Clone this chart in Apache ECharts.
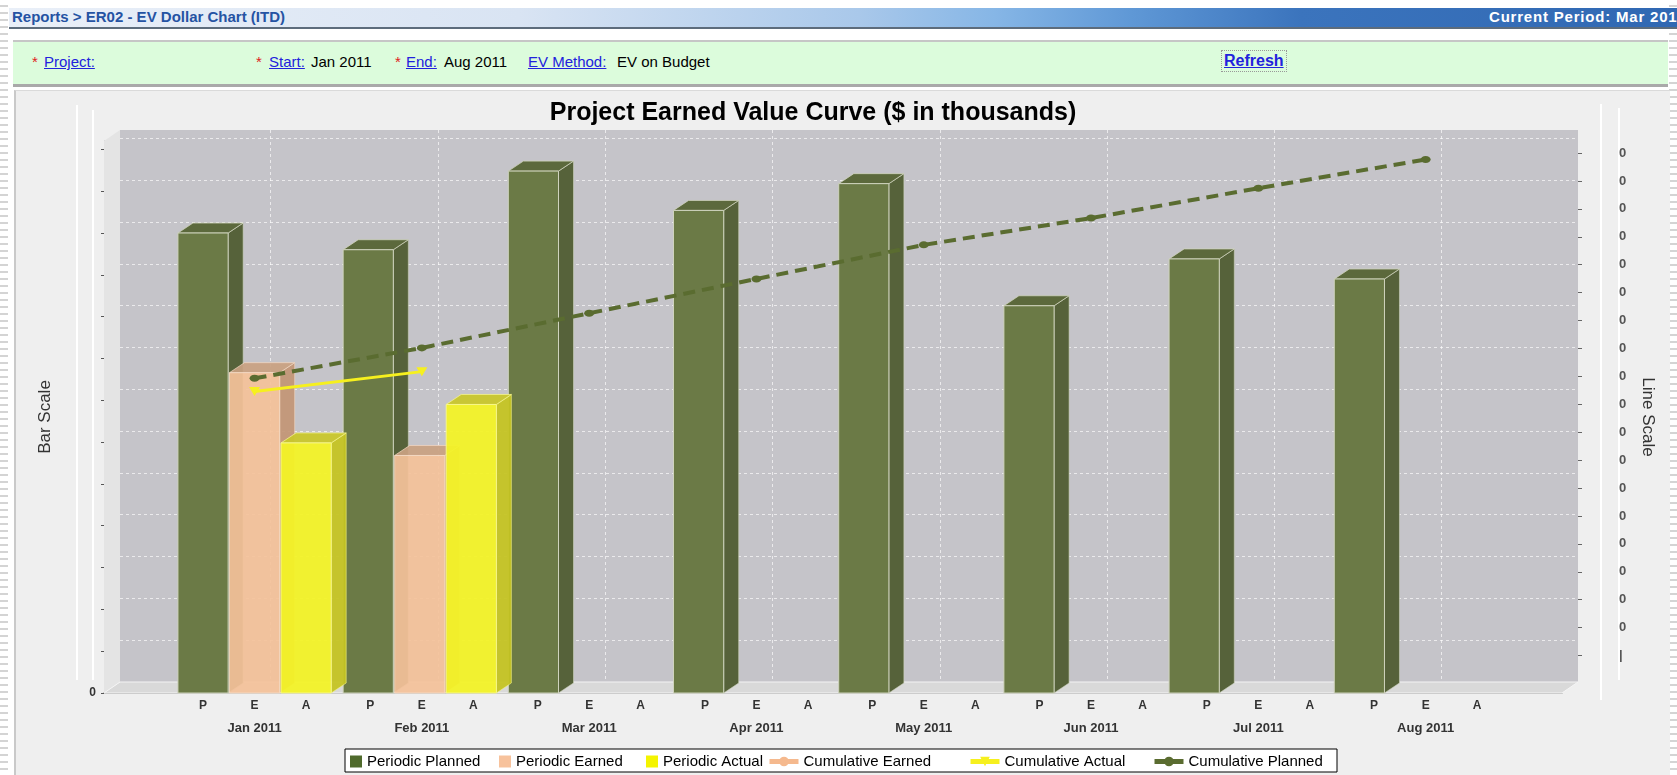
<!DOCTYPE html>
<html>
<head>
<meta charset="utf-8">
<title>EV Dollar Chart</title>
<script src="https://cdn.jsdelivr.net/npm/echarts@6/dist/echarts.min.js"></script>
<style>
body{margin:0;width:1677px;height:775px;overflow:hidden;background:#fff;position:relative;font-family:"Liberation Sans",Arial,sans-serif}
.edge{position:absolute;top:0;height:775px;width:8px;background:repeating-linear-gradient(to bottom,#fff 0,#fff 5px,#d4d4d4 5px,#d4d4d4 7px)}
#hdr{position:absolute;left:9px;top:8px;width:1700px;height:19px;border-bottom:2px solid #5d6c7c;
 background:linear-gradient(to right,#e9eff8 0%,#d9e4f3 30%,#a9c8ea 50%,#86b6e6 58%,#5f98d6 66%,#3b74bd 76%,#2f67b2 100%);overflow:hidden}
#hdr span{position:absolute;top:0px;font-family:"Liberation Sans Narrow","Liberation Sans",Arial;font-weight:bold;font-size:15px;white-space:nowrap}
#filt{position:absolute;left:13px;top:40px;width:1655px;height:42px;background:#dcfcdc;border-top:2px solid #c6c6c6;border-bottom:3px solid #a9a9a9}
#filt span{position:absolute;top:11px;font-size:15px;color:#000;white-space:nowrap}
#filt .st{color:#e02020}
#filt .lk{color:#2222dd;text-decoration:underline}
#panel{position:absolute;left:14px;top:90px;width:1654px;height:685px;background:#efefef;border-left:2px solid #c9c9c9;border-top:1px solid #dadada}
#main{position:absolute;left:0;top:0;width:1677px;height:775px}
</style>
</head>
<body>
<div class="edge" style="left:0"></div>
<div class="edge" style="left:1669px"></div>
<div id="hdr">
 <span style="left:3px;color:#2553a3">Reports &gt; ER02 - EV Dollar Chart (ITD)</span>
 <span style="left:1480px;color:#fff;letter-spacing:0.8px">Current Period: Mar 2011</span>
</div>
<div id="filt">
 <span class="st" style="left:19px">*</span><span class="lk" style="left:31px">Project:</span>
 <span class="st" style="left:243px">*</span><span class="lk" style="left:256px">Start:</span><span style="left:298px">Jan 2011</span>
 <span class="st" style="left:382px">*</span><span class="lk" style="left:393px">End:</span><span style="left:431px">Aug 2011</span>
 <span class="lk" style="left:515px">EV Method:</span><span style="left:604px">EV on Budget</span>
 <span class="lk" style="left:1208px;top:8px;font-weight:bold;font-size:16px;padding:1px 2px;border:1px dotted #999">Refresh</span>
</div>
<div id="panel"></div>
<div id="main"></div>
<script>
var months = ['Jan 2011', 'Feb 2011', 'Mar 2011', 'Apr 2011', 'May 2011', 'Jun 2011', 'Jul 2011', 'Aug 2011'];
var subLabels = ['P', 'E', 'A'];
// bar scale ($K), one value per month
var periodicPlanned = [550, 530, 624, 577, 609, 463, 519, 495];
var periodicEarned = [383, 284, null, null, null, null, null, null];
var periodicActual = [299, 345, null, null, null, null, null, null];
// line scale ($K)
var cumulativeEarned = [null, null, null, null, null, null, null, null];
var cumulativeActual = [946, 1017, null, null, null, null, null, null];
var cumulativePlanned = [993, 1102, 1226, 1349, 1471, 1567, 1674, 1777];
var barTicks = [0, 50, 100, 150, 200, 250, 300, 350, 400, 450, 500, 550, 600, 650];
var lineTicks = [0, 100, 200, 300, 400, 500, 600, 700, 800, 900, 1000, 1100, 1200, 1300, 1400, 1500, 1600, 1700, 1800];

// layout
var GL = 104, GT = 141, GW = 1458, GH = 552;   // front plane
var DX = 16, DY = -11;                         // depth of the back wall
var X_MIN = -0.9, X_MAX = 7.815;
var SLOT = 0.308, HALF = 0.15, BAR_STEP = 0.9874, BDX = 15, BDY = -10;

var monthVals = months.map(function (m, i) { return i; });
var subVals = [];
months.forEach(function (m, i) { subVals.push(i - SLOT, i, i + SLOT); });

function pairs(arr) {
	var out = [];
	arr.forEach(function (v, i) { if (v != null) out.push([i, v]); });
	return out;
}

function box(slot, c) {
	return function (params, api) {
		var mid = api.value(0) * BAR_STEP + (slot - 1) * SLOT;
		var a = api.coord([mid - HALF, 0]);
		var b = api.coord([mid + HALF, api.value(1)]);
		var x0 = a[0], x1 = b[0], yb = a[1], yt = b[1];
		return {
			type: 'group',
			children: [{
				type: 'polygon',
				shape: {points: [[x1, yt], [x1 + BDX, yt + BDY], [x1 + BDX, yb + BDY], [x1, yb]]},
				style: {fill: c.side, stroke: c.edge, lineWidth: 0.6, opacity: c.alpha}
			}, {
				type: 'polygon',
				shape: {points: [[x0, yt], [x1, yt], [x1 + BDX, yt + BDY], [x0 + BDX, yt + BDY]]},
				style: {fill: c.top, stroke: c.edge, lineWidth: 0.8, opacity: c.alpha}
			}, {
				type: 'rect',
				shape: {x: x0, y: yt, width: x1 - x0, height: yb - yt},
				style: {fill: c.front, stroke: c.edge, lineWidth: 1, opacity: c.alpha}
			}]
		};
	};
}

function legendAt(name, x, w, extra) {
	var l = {
		data: [extra ? Object.assign({name: name}, extra) : name],
		left: x, top: 754, padding: 0,
		itemWidth: w, itemHeight: 12,
		selectedMode: false,
		lineStyle: {width: 5},
		textStyle: {fontSize: 15, color: '#000'}
	};
	if (w < 20) l.icon = 'rect';
	return l;
}

var myChart = echarts.init(document.getElementById('main'), null, {renderer: 'canvas'});
myChart.setOption({
	animation: false,
	backgroundColor: 'transparent',
	textStyle: {fontFamily: 'Liberation Sans, Arial, sans-serif'},
	title: {
		text: 'Project Earned Value Curve ($ in thousands)',
		left: 813, top: 101, padding: 0, textAlign: 'center',
		textStyle: {fontSize: 25, fontWeight: 'bold', color: '#000'}
	},
	legend: [
		legendAt('Periodic Planned', 350, 12),
		legendAt('Periodic Earned', 499, 12),
		legendAt('Periodic Actual', 646, 12),
		legendAt('Cumulative Earned', 767, 29),
		legendAt('Cumulative Actual', 968, 29),
		legendAt('Cumulative Planned', 1152, 29, {lineStyle: {type: 'solid'}})
	],
	grid: [{
		left: GL, top: GT, width: GW, height: GH, show: false
	}, {
		left: GL + DX, top: GT + DY, width: GW, height: GH,
		show: true, backgroundColor: '#c5c4c9', borderWidth: 0
	}],
	xAxis: [{
		gridIndex: 0, type: 'value', min: X_MIN, max: X_MAX, position: 'bottom',
		axisLine: {show: true, onZero: false, lineStyle: {color: '#8f8f8f', width: 1.5}},
		axisTick: {show: false, customValues: monthVals},
		splitLine: {show: false},
		axisLabel: {
			customValues: monthVals, margin: 29,
			fontSize: 13, fontWeight: 'bold', color: '#333',
			formatter: function (v) { return months[Math.round(v)]; }
		}
	}, {
		gridIndex: 0, type: 'value', min: X_MIN, max: X_MAX, position: 'bottom',
		axisLine: {show: false, onZero: false},
		axisTick: {show: false, customValues: subVals},
		splitLine: {show: false},
		axisLabel: {
			customValues: subVals, margin: 7,
			fontSize: 12, fontWeight: 'bold', color: '#333',
			formatter: function (v) { return subLabels[Math.round((v - Math.round(v)) / SLOT) + 1]; }
		}
	}, {
		gridIndex: 1, type: 'value', min: X_MIN, max: X_MAX,
		axisLine: {show: false, onZero: false},
		axisTick: {show: false, customValues: monthVals},
		axisLabel: {show: false},
		splitLine: {show: true, lineStyle: {color: 'rgba(255,255,255,0.65)', type: [3, 3], width: 1}}
	}],
	yAxis: [{
		gridIndex: 0, type: 'value', min: 0, max: 660, position: 'left',
		name: 'Bar Scale', nameLocation: 'middle', nameRotate: 90, nameGap: 50,
		nameTextStyle: {fontSize: 17, color: '#333'},
		axisLine: {show: true, onZero: false, lineStyle: {color: '#b4b4b4'}},
		axisTick: {show: true, length: 3, customValues: barTicks, lineStyle: {color: '#555'}},
		splitLine: {show: false},
		axisLabel: {
			customValues: barTicks, margin: 8, fontSize: 12, fontWeight: 'bold', color: '#333',
			formatter: function (v) { return v === 0 ? '0' : ''; }
		}
	}, {
		gridIndex: 0, type: 'value', min: -134, max: 1843, position: 'right', offset: DX,
		name: 'Line Scale', nameLocation: 'middle', nameRotate: -90, nameGap: 61,
		nameTextStyle: {fontSize: 17, color: '#333'},
		axisLine: {show: false, onZero: false},
		axisTick: {show: true, length: 4, customValues: lineTicks, lineStyle: {color: '#666'}},
		splitLine: {show: false},
		axisLabel: {
			customValues: lineTicks, margin: 41, fontSize: 13, fontWeight: 'bold', color: '#555',
			formatter: function (v) { return v === 0 ? '|' : '0'; }
		}
	}, {
		gridIndex: 1, type: 'value', min: 0, max: 660,
		axisLine: {show: false, onZero: false},
		axisTick: {show: false, customValues: barTicks},
		axisLabel: {show: false},
		splitLine: {show: true, lineStyle: {color: 'rgba(255,255,255,0.65)', type: [3, 3], width: 1}}
	}],
	graphic: [
		{type: 'line', shape: {x1: 77, y1: 105, x2: 77, y2: 680}, style: {stroke: '#fff', lineWidth: 2}},
		{type: 'line', shape: {x1: 93, y1: 110, x2: 93, y2: 680}, style: {stroke: '#fff', lineWidth: 2}},
		{type: 'line', shape: {x1: 1601, y1: 104, x2: 1601, y2: 700}, style: {stroke: '#fff', lineWidth: 2}},
		{type: 'line', shape: {x1: 1619, y1: 108, x2: 1619, y2: 680}, style: {stroke: '#fff', lineWidth: 2}},
		{type: 'polygon', z: 1, shape: {points: [[GL, GT], [GL + DX, GT + DY], [GL + DX, GT + GH + DY], [GL, GT + GH]]},
			style: {fill: '#e4e4e4'}},
		{type: 'polygon', z: 1, shape: {points: [[GL, GT + GH], [GL + DX, GT + GH + DY], [GL + GW + DX, GT + GH + DY], [GL + GW, GT + GH]]},
			style: {fill: '#d9d9d9', stroke: '#f4f4f4', lineWidth: 1}},
		{type: 'rect', z: 0, shape: {x: 345, y: 749, width: 992, height: 23},
			style: {fill: '#fff', stroke: '#000', lineWidth: 1}}
	],
	series: [{
		name: 'Periodic Planned', type: 'custom', xAxisIndex: 0, yAxisIndex: 0, z: 3,
		itemStyle: {color: '#4f6a2c'},
		encode: {x: 0, y: 1},
		renderItem: box(0, {front: '#6b7a46', side: '#56623a', top: '#5c693c', edge: '#cfd3bd', alpha: 1}),
		data: pairs(periodicPlanned)
	}, {
		name: 'Periodic Earned', type: 'custom', xAxisIndex: 0, yAxisIndex: 0, z: 3,
		itemStyle: {color: '#f7c29c'},
		encode: {x: 0, y: 1},
		renderItem: box(1, {front: '#f4c29a', side: '#c39676', top: '#c9a182', edge: '#f3d8c2', alpha: 0.93}),
		data: pairs(periodicEarned)
	}, {
		name: 'Periodic Actual', type: 'custom', xAxisIndex: 0, yAxisIndex: 0, z: 3,
		itemStyle: {color: '#f4f400'},
		encode: {x: 0, y: 1},
		renderItem: box(2, {front: '#f3f326', side: '#c5c322', top: '#c9c72c', edge: '#f6f68c', alpha: 0.94}),
		data: pairs(periodicActual)
	}, {
		name: 'Cumulative Earned', type: 'line', xAxisIndex: 0, yAxisIndex: 1, z: 5,
		symbol: 'circle', symbolSize: [12, 8],
		itemStyle: {color: '#f5b98e'}, lineStyle: {color: '#f5b98e', width: 4},
		data: pairs(cumulativeEarned)
	}, {
		name: 'Cumulative Actual', type: 'line', xAxisIndex: 0, yAxisIndex: 1, z: 6,
		symbol: 'triangle', symbolRotate: 180, symbolSize: [11, 9],
		itemStyle: {color: '#f6f01e'}, lineStyle: {color: '#f6f01e', width: 3},
		data: pairs(cumulativeActual)
	}, {
		name: 'Cumulative Planned', type: 'line', xAxisIndex: 0, yAxisIndex: 1, z: 6,
		symbol: 'circle', symbolSize: [10, 7],
		itemStyle: {color: '#5a6c30'}, lineStyle: {color: '#5a6c30', width: 4, type: [12, 7]},
		data: pairs(cumulativePlanned)
	}]
});
</script>
</body>
</html>
